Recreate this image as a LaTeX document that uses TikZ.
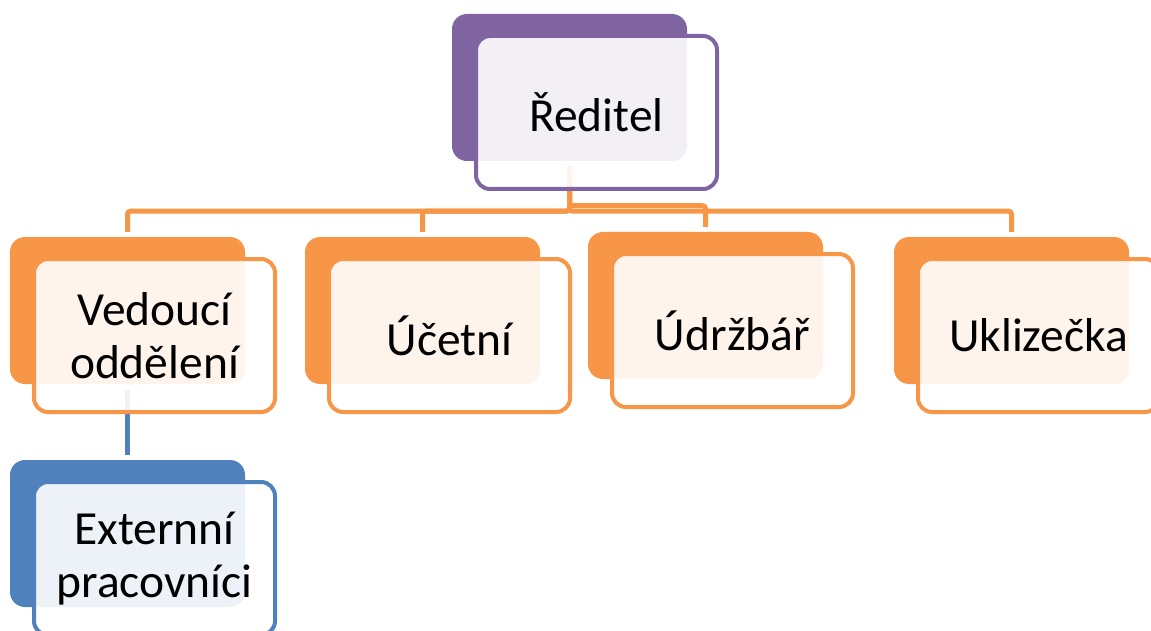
\documentclass[tikz,border=0pt]{standalone}
\usepackage{fontspec}
\setmainfont{Carlito}
\definecolor{cpurple}{HTML}{8064A2}
\definecolor{corange}{HTML}{F79646}
\definecolor{cblue}{HTML}{4F81BD}
\tikzset{
  backbox/.style={rectangle, rounded corners=15pt, minimum width=235pt, minimum height=147pt, inner sep=0pt, draw=none, fill=#1},
  frontbox/.style={rectangle, rounded corners=14pt, minimum width=241pt, minimum height=153pt, inner sep=0pt, draw=#1, line width=4pt, fill=white, fill opacity=0.9, text opacity=1, draw opacity=1, align=center, font=\fontsize{47.5}{53}\selectfont},
  conn/.style={draw=#1, line width=5pt, rounded corners=3pt}
}
\begin{document}
\begin{tikzpicture}[x=1pt,y=-1pt]
\path[use as bounding box, clip] (0,0) rectangle (1151,631);
\fill[white] (0,0) rectangle (1151,631);
% invisible anchors at the back boxes, used by the connectors
\path (569.5,87.5) node[backbox=cpurple, opacity=0] (redB) {};
\path (127.5,310.5) node[backbox=corange, opacity=0] (vedB) {};
\path (422.5,310.5) node[backbox=corange, opacity=0] (ucB) {};
\path (705.5,305.5) node[backbox=corange, opacity=0] (udB) {};
\path (1011.5,310.5) node[backbox=corange, opacity=0] (ukB) {};
\path (127.5,533.5) node[backbox=cblue, opacity=0] (exB) {};
% connectors drawn first (front boxes are semi-opaque over them)
\draw[conn=corange] ([yshift=-4pt]redB.south) -- ++(0,46) -| ([yshift=5pt]vedB.north);
\draw[conn=corange] ([yshift=-4pt]redB.south) -- ++(0,46) -| ([yshift=5pt]ucB.north);
\draw[conn=corange] ([yshift=-4pt]redB.south) -- ++(0,46) -| ([yshift=5pt]ukB.north);
\draw[conn=corange] ([yshift=-4pt]redB.south) -- ++(0,40.5) -| ([yshift=5pt]udB.north);
\draw[conn=cblue] ([yshift=-6pt]vedB.south) -- ([yshift=5pt]exB.north);
% boxes
\node[backbox=cpurple] (redBk) at (redB) {};
\node[frontbox=cpurple] (redF) at (596.5,112.5) {Ředitel};
\node[backbox=corange] (vedBk) at (vedB) {};
\node[frontbox=corange] (vedF) at (154.5,335.5) {Vedoucí\\oddělení};
\node[backbox=corange] (ucBk) at (ucB) {};
\node[frontbox=corange] (ucF) at (449.5,335.5) {Účetní};
\node[backbox=corange] (udBk) at (udB) {};
\node[frontbox=corange] (udF) at (732.5,330.5) {Údržbář};
\node[backbox=corange] (ukBk) at (ukB) {};
\node[frontbox=corange] (ukF) at (1038.5,335.5) {Uklizečka};
\node[backbox=cblue] (exBk) at (exB) {};
\node[frontbox=cblue] (exF) at (154.5,558.5) {Externní\\pracovníci};
\end{tikzpicture}
\end{document}
